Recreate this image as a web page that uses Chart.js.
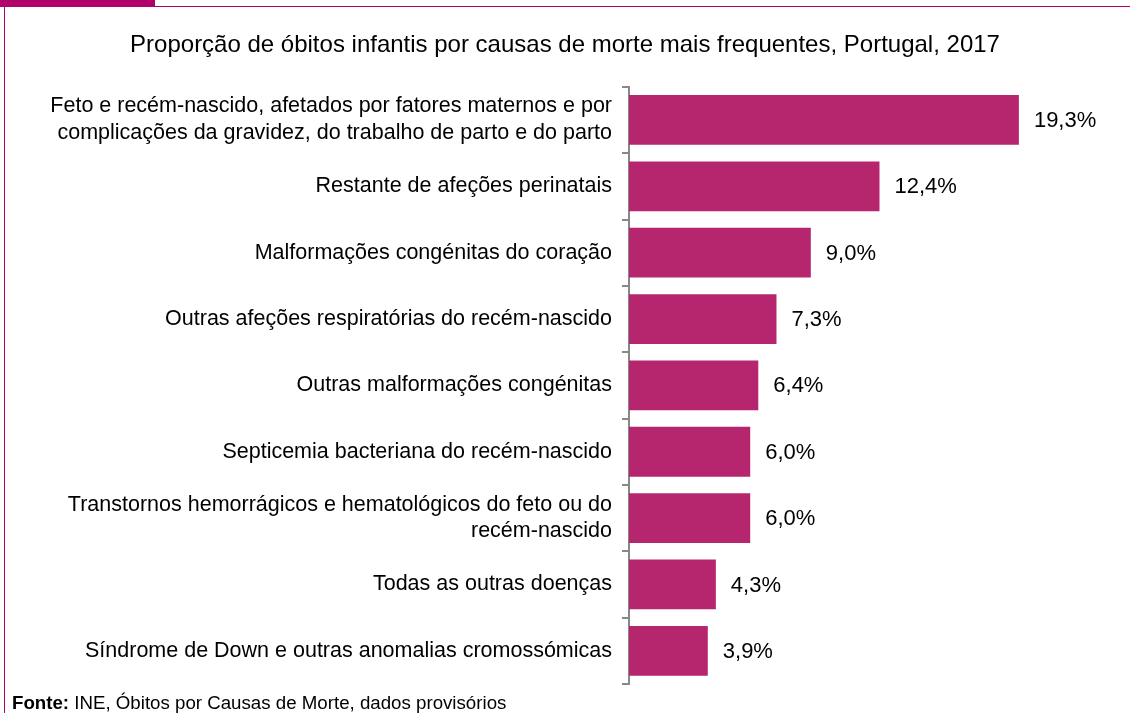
<!DOCTYPE html>
<html lang="pt">
<head>
<meta charset="utf-8">
<title>Óbitos infantis por causas de morte</title>
<script src="https://cdn.jsdelivr.net/npm/chart.js@4"></script>
<style>
    body {
        margin: 0;
        background: #fff;
        font-family: "Liberation Sans", Arial, sans-serif;
    }

    #frame {
        position: relative;
        width: 1130px;
        height: 713px;
        overflow: hidden;
    }

    .tab {
        position: absolute;
        left: 0;
        top: 0;
        width: 155px;
        height: 7px;
        background: #b0006a;
    }

    .top-line {
        position: absolute;
        left: 155px;
        top: 6px;
        right: 0;
        height: 1px;
        background: #b0006a;
    }

    .left-line {
        position: absolute;
        left: 4px;
        top: 6px;
        bottom: 0;
        width: 1px;
        background: #b0006a;
    }

    canvas {
        position: absolute;
        left: 0;
        top: 0;
    }

    .source {
        position: absolute;
        left: 12px;
        top: 692px;
        font-size: 18.7px;
        line-height: 22px;
        color: #000;
        white-space: nowrap;
    }
</style>
</head>
<body>
<div id="frame">
    <canvas id="myChart" width="1141" height="713"></canvas>
    <div class="tab"></div>
    <div class="top-line"></div>
    <div class="left-line"></div>
    <div class="source"><b>Fonte:</b> INE, Óbitos por Causas de Morte, dados provisórios</div>
</div>

<script>
let causes = [
    ['Feto e recém-nascido, afetados por fatores maternos e por', 'complicações da gravidez, do trabalho de parto e do parto'],
    'Restante de afeções perinatais',
    'Malformações congénitas do coração',
    'Outras afeções respiratórias do recém-nascido',
    'Outras malformações congénitas',
    'Septicemia bacteriana do recém-nascido',
    ['Transtornos hemorrágicos e hematológicos do feto ou do', 'recém-nascido'],
    'Todas as outras doenças',
    'Síndrome de Down e outras anomalias cromossómicas'
];
let shares = [19.3, 12.4, 9.0, 7.3, 6.4, 6.0, 6.0, 4.3, 3.9];

let chartTitle = 'Proporção de óbitos infantis por causas de morte mais frequentes, Portugal, 2017';

// ================================================================== Value labels
function formatShare(value) {
    return value.toFixed(1).replace('.', ',') + '%';
}

let valueLabels = {
    id: 'valueLabels',
    afterDatasetsDraw(chart) {
        let ctx = chart.ctx;
        let meta = chart.getDatasetMeta(0);
        ctx.save();
        ctx.font = '22px "Liberation Sans", Arial, sans-serif';
        ctx.fillStyle = '#000';
        ctx.textAlign = 'left';
        ctx.textBaseline = 'middle';
        meta.data.forEach((bar, i) => {
            ctx.fillText(formatShare(shares[i]), bar.x + 15, bar.y + 1);
        });
        ctx.restore();
    }
};

// ================================================================== Chart
function setChart() {
    let ctx = document.getElementById('myChart');

    new Chart(ctx, {
        type: 'bar',
        data: {
            labels: causes,
            datasets: [{
                data: shares,
                backgroundColor: '#b5266f',
                borderWidth: 0,
                barPercentage: 0.75,
                categoryPercentage: 1
            }]
        },
        options: {
            indexAxis: 'y',
            responsive: false,
            animation: false,
            layout: {
                padding: { left: 0, right: 11, top: 0, bottom: 29 }
            },
            plugins: {
                legend: { display: false },
                tooltip: { enabled: false },
                title: {
                    display: true,
                    text: chartTitle,
                    color: '#000',
                    font: { family: '"Liberation Sans", Arial, sans-serif', size: 24, weight: 'normal' },
                    padding: { top: 31, bottom: 27 }
                }
            },
            scales: {
                x: {
                    display: false,
                    min: 0,
                    max: 24.8
                },
                y: {
                    afterFit(scale) {
                        scale.width = 629;
                        scale.paddingTop = 0;
                        scale.paddingBottom = 0;
                    },
                    grid: {
                        display: true,
                        offset: true,
                        drawOnChartArea: false,
                        drawTicks: true,
                        tickLength: 7,
                        color: '#888',
                        lineWidth: 2
                    },
                    border: {
                        display: true,
                        color: '#888',
                        width: 2
                    },
                    ticks: {
                        color: '#000',
                        padding: 10,
                        autoSkip: false,
                        font: { family: '"Liberation Sans", Arial, sans-serif', size: 21.5, lineHeight: 1.25 }
                    }
                }
            }
        },
        plugins: [valueLabels]
    });
}

setChart();
</script>
</body>
</html>
